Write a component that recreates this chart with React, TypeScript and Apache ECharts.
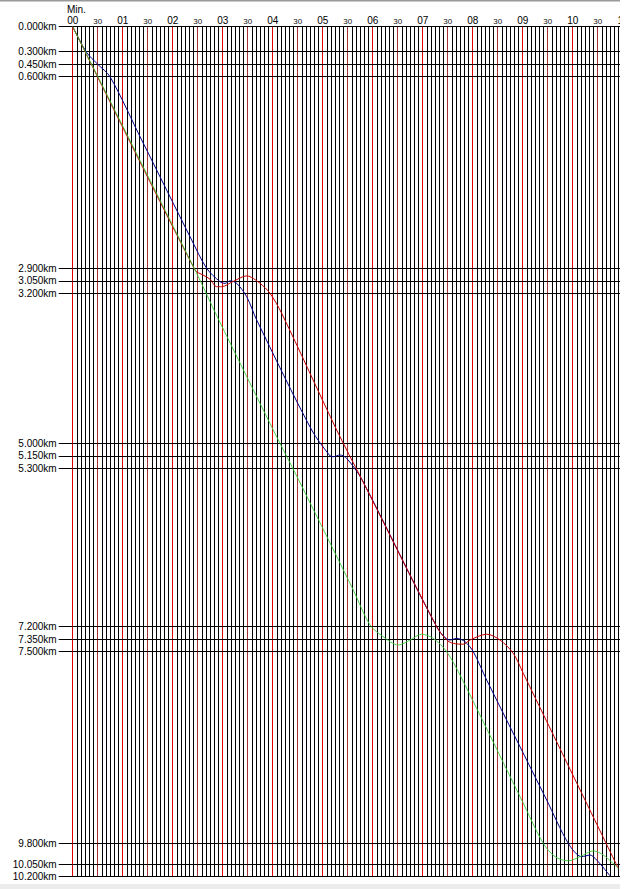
import React, { useEffect, useRef } from "react";
import * as echarts from "echarts";

// Station positions (km) shown as horizontal lines
const stationKm = [0, 0.3, 0.45, 0.6, 2.9, 3.05, 3.2, 5.0, 5.15, 5.3, 7.2, 7.35, 7.5, 9.8, 10.05, 10.2];

// Time axis (seconds)
const timeMaxSec = 660;
const minorStepSec = 5;
const majorStepSec = 30;

// Train paths: [seconds, km]
const blueTrain: [number, number][] = [
  [0, 0], [16.8, 0.31], [30, 0.45], [44.8, 0.6], [82.8, 1.36], [142.8, 2.56],
  [160.8, 2.9], [176.8, 3.06], [182.8, 3.08], [188.8, 3.05], [196.8, 3.08],
  [208.8, 3.24], [220.8, 3.52], [286.8, 4.84], [308.8, 5.15], [312.4, 5.16],
  [320.8, 5.14], [328.8, 5.18], [346.8, 5.43], [436.8, 7.2], [452.8, 7.36],
  [460.8, 7.34], [470.8, 7.38], [480.7, 7.5], [496.8, 7.84], [568.8, 9.28],
  [594.7, 9.8], [610.8, 9.96], [620.8, 9.94], [628.8, 10.0], [644.8, 10.19],
];

const redTrain: [number, number][] = [
  [0, 0], [146.8, 2.92], [156.4, 2.98], [164.8, 3.03], [172.8, 3.12],
  [178.8, 3.12], [192, 3.06], [208.8, 2.99], [224.8, 3.08], [236.8, 3.2],
  [250.8, 3.44], [316.8, 4.84], [346.8, 5.43], [436.8, 7.2], [448.8, 7.36],
  [456.7, 7.4], [468.7, 7.41], [476.8, 7.36], [496.8, 7.29], [512.8, 7.36],
  [528.7, 7.52], [540.7, 7.76], [614.8, 9.28], [654.7, 10.1],
];

const greenTrain: [number, number][] = [
  [0, 0], [146.8, 2.92], [174.4, 3.5], [240.7, 4.84], [270.7, 5.43],
  [336.7, 6.76], [356.8, 7.18], [372.7, 7.32], [390.7, 7.42], [404.8, 7.36],
  [418.8, 7.29], [432.7, 7.34], [448.8, 7.5], [466.8, 7.82], [538.8, 9.28],
  [564.7, 9.8], [578.8, 9.96], [594.7, 10.01], [608.8, 9.96], [624.7, 9.89],
  [636.7, 9.94], [654.7, 10.1],
];

const FONT = "Liberation Sans";

export default function App() {
  const ref = useRef<HTMLDivElement>(null);
  useEffect(() => {
    if (!ref.current) return;
    const chart = echarts.init(ref.current, undefined, { renderer: "svg" });
    const pad = (n: number) => (n < 10 ? "0" + n : String(n));
    const lineSeries = (name: string, data: [number, number][], color: string, opacity = 1) => ({
      name,
      type: "line",
      data,
      smooth: 0.3,
      symbol: "none",
      clip: true,
      lineStyle: { color, width: 1, opacity },
      z: 5,
    });
    chart.setOption({
      animation: false,
      backgroundColor: "#ffffff",
      grid: { left: 72.7, top: 26.7, width: 550, height: 850, containLabel: false },
      xAxis: [
        {
          type: "value",
          position: "top",
          min: 0,
          max: timeMaxSec,
          interval: minorStepSec,
          axisLine: { show: false },
          axisTick: { show: false },
          axisLabel: { show: false },
          splitLine: { show: true, lineStyle: { color: "#000000", width: 1 } },
        },
        {
          type: "value",
          position: "top",
          min: 0,
          max: timeMaxSec,
          interval: majorStepSec,
          axisLine: { show: false },
          axisTick: { show: false },
          axisLabel: {
            show: true,
            margin: 1,
            color: "#000000",
            fontFamily: FONT,
            fontSize: 10,
            formatter: (v: number) =>
              v % 60 === 0 ? "{m|" + pad(Math.round(v / 60)) + "}" : "{s|30}",
            rich: {
              m: { fontSize: 10, lineHeight: 11, fontFamily: FONT, color: "#000000" },
              s: { fontSize: 8, lineHeight: 11, fontFamily: FONT, color: "#111111", verticalAlign: "bottom" },
            },
          },
          splitLine: { show: true, lineStyle: { color: ["#e00000", "#a83030"], width: 1 } },
        },
      ],
      yAxis: {
        type: "value",
        inverse: true,
        min: 0,
        max: 10.2,
        axisLine: { show: false },
        axisTick: {
          show: true,
          length: 14,
          customValues: stationKm,
          lineStyle: { color: "#000", width: 1 },
        },
        axisLabel: {
          show: true,
          margin: 16,
          customValues: stationKm,
          color: "#000",
          fontFamily: FONT,
          fontSize: 10,
          formatter: (v: number) => v.toFixed(3) + "km",
        },
        splitLine: { show: false },
      },
      graphic: [
        { type: "rect", shape: { x: 0, y: 0, width: 631, height: 1.5 }, style: { fill: "#9a9a9a" } },
        { type: "text", x: 67, y: 4, style: { text: "Min.", font: `10px '${FONT}'`, fill: "#000" } },
        { type: "rect", shape: { x: 0, y: 884, width: 631, height: 5 }, style: { fill: "#ececec" } },
      ],
      series: [
        {
          ...lineSeries("blue", blueTrain, "#00008b"),
          markLine: {
            silent: true,
            symbol: "none",
            label: { show: false },
            lineStyle: { color: "#000", type: "solid", width: 1 },
            data: stationKm.map((v) => ({ yAxis: v })),
            z: 3,
          },
        },
        lineSeries("red", redTrain, "#c80000"),
        lineSeries("green", greenTrain, "#33cc33", 0.85),
      ],
    });
    return () => chart.dispose();
  }, []);
  return (
    <div style={{ position: "absolute", left: 0, top: 0, width: 620, height: 889, overflow: "hidden", background: "#fff" }}>
      <div ref={ref} style={{ width: 631, height: 889 }} />
    </div>
  );
}
